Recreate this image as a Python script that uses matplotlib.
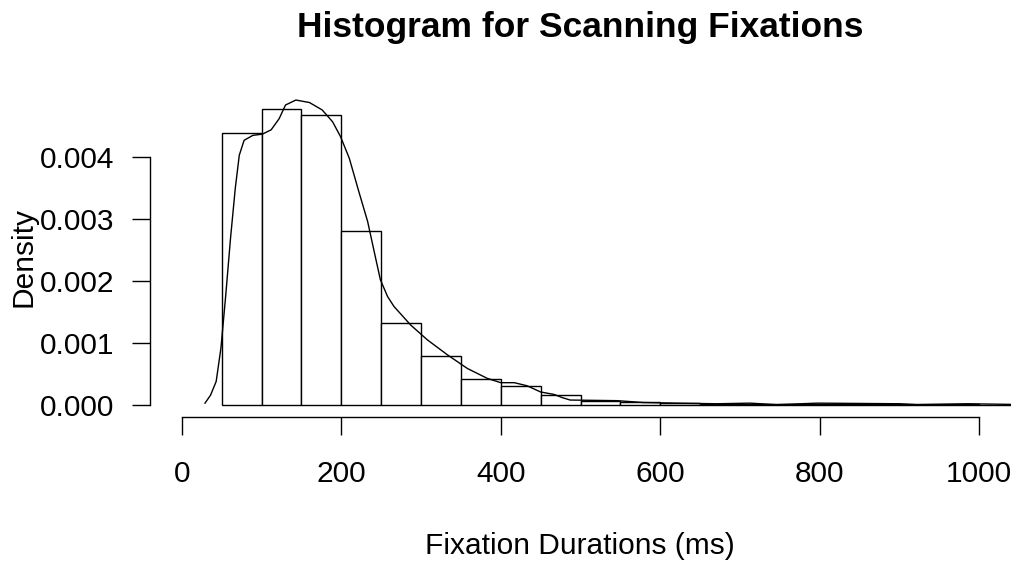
import matplotlib
matplotlib.use("Agg")
import matplotlib.pyplot as plt
import numpy as np

plt.rcParams['font.family'] = ['Liberation Sans', 'DejaVu Sans']

# histogram bins (ms) and densities
bin_edges = np.arange(50, 1051, 50)
bin_density = [0.00439, 0.00477, 0.00468, 0.00281, 0.00132, 0.00079, 0.00042,
               0.00031, 0.00016, 0.00007, 0.00005, 0.00003, 0.00002, 0.00002,
               0.00001, 0.00001, 0.000015, 0.00001, 0.00001, 0.000005]

# kernel density curve
kde_x = [29, 36, 43, 49, 55, 61, 67, 72, 78, 89, 101, 112, 122, 130, 143,
         160, 176, 189, 199, 210, 222, 233, 243, 249, 258, 266, 287, 308, 333,
         358, 383, 400, 417, 433, 450, 467, 477, 487, 546, 579, 620, 671, 713,
         746, 797, 850, 901, 922, 985, 1040]
kde_y = [0.03, 0.16, 0.38, 0.92, 1.77, 2.69, 3.5, 4.03, 4.27, 4.35, 4.37,
         4.44, 4.62, 4.84, 4.92, 4.88, 4.76, 4.57, 4.33, 3.98, 3.44, 2.96,
         2.37, 2.02, 1.75, 1.59, 1.29, 1.05, 0.81, 0.59, 0.43, 0.36, 0.36,
         0.31, 0.21, 0.17, 0.12, 0.08, 0.07, 0.04, 0.03, 0.02, 0.03, 0.005,
         0.03, 0.025, 0.02, 0.005, 0.02, 0.01]
kde_y = [v / 1000 for v in kde_y]

x_ticks = [0, 200, 400, 600, 800, 1000]
y_ticks = [0.000, 0.001, 0.002, 0.003, 0.004]

W, H = 1016, 565
fig = plt.figure(figsize=(W / 100, H / 100), dpi=100)
# plot region in pixels: left 150, right 1011, top 93, bottom 417
ax = fig.add_axes([150 / W, (H - 417) / H, 861 / W, 324 / H])

widths = np.diff(bin_edges)
ax.bar(bin_edges[:-1], bin_density, width=widths, align='edge',
       facecolor='white', edgecolor='black', linewidth=1.0)
ax.plot(kde_x, kde_y, color='black', linewidth=1.0)

ax.set_xlim(-40, 1040)
ax.set_ylim(-0.04 * 0.00484, 1.04 * 0.00484)

for s in ['top', 'right']:
    ax.spines[s].set_visible(False)
ax.spines['left'].set_bounds(0, 0.004)
ax.spines['bottom'].set_bounds(0, 1000)
for s in ['left', 'bottom']:
    ax.spines[s].set_linewidth(1.0)

ax.set_xticks(x_ticks)
ax.set_xticklabels([str(v) for v in x_ticks])
ax.set_yticks(y_ticks)
ax.set_yticklabels(['%.3f' % v for v in y_ticks])
ax.tick_params(axis='both', direction='out', length=13, width=1.0,
               labelsize=21.5)
ax.tick_params(axis='x', pad=18)
ax.tick_params(axis='y', pad=13)

fig.text(580 / W, 1 - 27 / H, 'Histogram for Scanning Fixations',
         ha='center', va='center', fontsize=25.5, fontweight='bold')
fig.text(580 / W, 1 - 546 / H, 'Fixation Durations (ms)',
         ha='center', va='center', fontsize=21.5)
fig.text(23 / W, 1 - 257 / H, 'Density', rotation=90,
         ha='center', va='center', fontsize=21.5)

fig.savefig('out.png', dpi=100)
